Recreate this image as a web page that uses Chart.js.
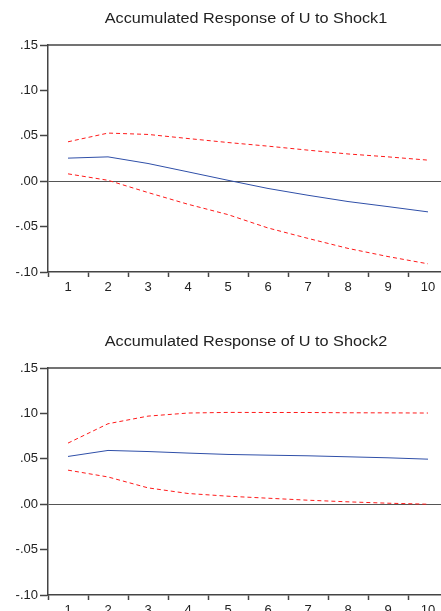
<!DOCTYPE html>
<html>
<head>
<meta charset="utf-8">
<script src="https://cdn.jsdelivr.net/npm/chart.js@4.4.0/dist/chart.umd.min.js"></script>
<style>
  body { margin: 0; background: #fff; overflow: hidden; width: 441px; height: 611px; position: relative; }
  .panel { position: absolute; left: 0; width: 470px; height: 300px; }
</style>
</head>
<body>
<div class="panel" style="top:0"><canvas id="c1" width="470" height="300"></canvas></div>
<div class="panel" style="top:323px"><canvas id="c2" width="470" height="300"></canvas></div>
<script>
const periods = ['1', '2', '3', '4', '5', '6', '7', '8', '9', '10'];

// response of U to Shock1, with +/- 2 s.e. bands
const shock1Resp  = [0.0254, 0.0268, 0.0195, 0.0103, 0.0010, -0.0080, -0.0155, -0.0224, -0.0280, -0.0338];
const shock1Upper = [0.0434, 0.0530, 0.0515, 0.0470, 0.0426, 0.0386, 0.0342, 0.0300, 0.0268, 0.0232];
const shock1Lower = [0.0081, 0.0010, -0.0125, -0.0254, -0.0368, -0.0515, -0.0630, -0.0740, -0.0830, -0.0910];

// response of U to Shock2
const shock2Resp  = [0.0526, 0.0592, 0.0580, 0.0563, 0.0548, 0.0540, 0.0533, 0.0522, 0.0511, 0.0496];
const shock2Upper = [0.0673, 0.0886, 0.0970, 0.1004, 0.1011, 0.1010, 0.1010, 0.1007, 0.1006, 0.1004];
const shock2Lower = [0.0375, 0.0300, 0.0180, 0.0118, 0.0088, 0.0066, 0.0044, 0.0026, 0.0011, 0.0000];

const yMin = -0.10, yMax = 0.15, yStep = 0.05;

const FONT = 'Liberation Sans, Arial, sans-serif';

// eviews style tick label: .15, .00, -.05
const fmt = (v) => {
  const s = Math.abs(v).toFixed(2).replace(/^0/, '');
  return (v < -1e-9 ? '-' : '') + s;
};

// top edge of the frame + the title (eviews draws it a bit wide)
const frame = {
  id: 'frame',
  afterDraw(chart, args, opts) {
    const { ctx, chartArea } = chart;
    ctx.save();
    ctx.strokeStyle = '#444';
    ctx.lineWidth = 1.5;
    ctx.beginPath();
    ctx.moveTo(chartArea.left, chartArea.top);
    ctx.lineTo(chartArea.right, chartArea.top);
    ctx.stroke();

    ctx.fillStyle = '#222';
    ctx.font = '14px ' + FONT;
    ctx.textAlign = 'center';
    ctx.textBaseline = 'alphabetic';
    ctx.translate((chartArea.left + chartArea.right) / 2 - 2, 23);
    ctx.scale(1.16, 1);
    ctx.fillText(opts.text, 0, 0);
    ctx.restore();
  }
};

const makeChart = (id, title, resp, upper, lower) => {
  const ctx = document.getElementById(id).getContext('2d');
  const band = (data) => ({
    data: data,
    borderColor: '#ff1a1a',
    borderWidth: 1,
    borderDash: [4, 3],
    pointRadius: 0,
    fill: false,
    tension: 0,
  });
  return new Chart(ctx, {
    type: 'line',
    data: {
      labels: periods,
      datasets: [
        {
          data: resp,
          borderColor: '#2f4fa8',
          borderWidth: 1,
          pointRadius: 0,
          fill: false,
          tension: 0,
        },
        band(upper),
        band(lower),
      ],
    },
    options: {
      responsive: false,
      animation: false,
      layout: { padding: { left: 0, right: 22, top: 45, bottom: 0 } },
      plugins: {
        legend: { display: false },
        tooltip: { enabled: false },
        title: { display: false },
        frame: { text: title },
      },
      scales: {
        x: {
          type: 'category',
          offset: true,
          grid: {
            offset: true,
            drawOnChartArea: false,
            drawTicks: true,
            tickLength: 5,
            tickColor: '#444',
            tickWidth: 1.5,
          },
          border: { display: true, color: '#444', width: 1.5 },
          ticks: {
            color: '#222',
            padding: 3,
            maxRotation: 0,
            font: { family: FONT, size: 13 },
          },
          afterFit: (scale) => { scale.height = 28; },
        },
        y: {
          min: yMin,
          max: yMax,
          grid: {
            drawOnChartArea: true,
            color: (c) => (c.tick && Math.abs(c.tick.value) < 1e-9 ? '#555' : 'rgba(0,0,0,0)'),
            lineWidth: 1,
            tickLength: 8,
            tickColor: '#444',
            tickWidth: 1.5,
          },
          border: { display: true, color: '#444', width: 1.5 },
          ticks: {
            stepSize: yStep,
            color: '#222',
            padding: 2,
            callback: (v) => fmt(v),
            font: { family: FONT, size: 13 },
          },
          afterFit: (scale) => { scale.width = 48; },
        },
      },
    },
    plugins: [frame],
  });
};

makeChart('c1', 'Accumulated Response of U to Shock1', shock1Resp, shock1Upper, shock1Lower);
makeChart('c2', 'Accumulated Response of U to Shock2', shock2Resp, shock2Upper, shock2Lower);
</script>
</body>
</html>
